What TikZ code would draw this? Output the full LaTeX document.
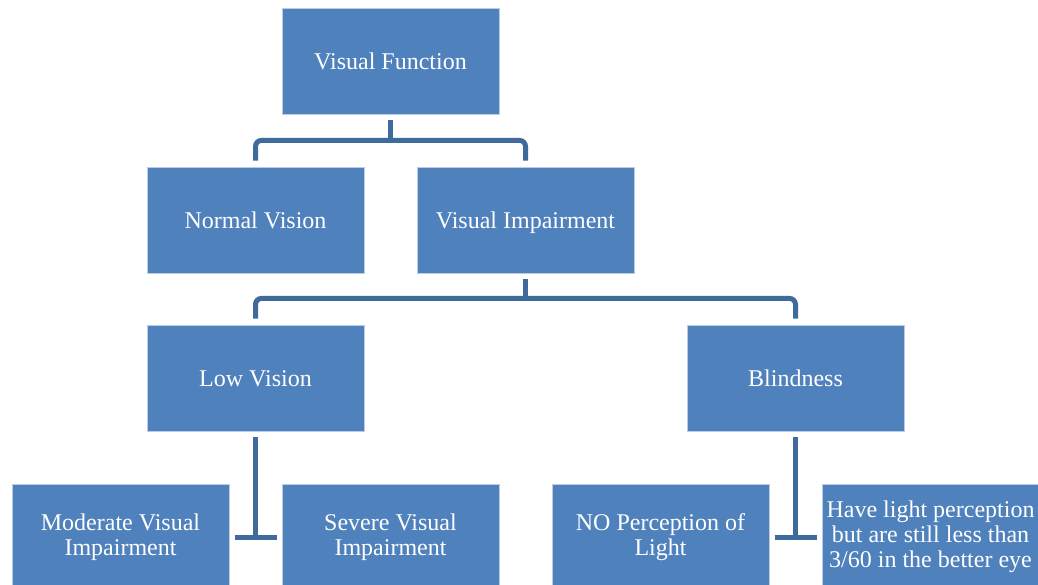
\documentclass[tikz,border=0pt]{standalone}
\usepackage{fontspec}
\setmainfont{Liberation Serif}
\definecolor{boxblue}{HTML}{4F81BD}
\definecolor{linkblue}{HTML}{3F6B9C}
\begin{document}
\begin{tikzpicture}[x=1pt,y=-1pt,
  box/.style={fill=boxblue, draw=white!60!boxblue, line width=0.8pt,
    minimum width=217pt, minimum height=106pt,
    text=white, font=\fontsize{24}{25}\selectfont, align=center, inner sep=3pt},
  oneline/.style={text height=18pt, text depth=1.5pt},
  conn/.style={draw=linkblue, line width=5pt, rounded corners=6pt}]
\useasboundingbox (0,0) rectangle (1038,584);
\clip (0,0) rectangle (1038,584);

\node[box,oneline] (vf) at (390.5,61) {Visual Function};
\node[box,oneline] (nv) at (255.5,220) {Normal Vision};
\node[box,oneline] (vi) at (525.5,220) {Visual Impairment};
\node[box,oneline] (lv) at (255.5,378) {Low Vision};
\node[box,oneline] (bl) at (795.5,378) {Blindness};
\node[box] (mv) at (120.5,537) {Moderate Visual\\Impairment};
\node[box] (sv) at (390.5,537) {Severe Visual\\Impairment};
\node[box] (np) at (660.5,537) {NO Perception of\\Light};
\node[box] (hl) at (930.5,537) {Have light perception\\but are still less than\\3/60 in the better eye};

% level 1
\coordinate (j1) at ([yshift=-26pt]vf.south);
\draw[conn] ([yshift=-6pt]vf.south) -- (j1);
\draw[conn] ([yshift=6pt]nv.north) |- (j1) -| ([yshift=6pt]vi.north);

% level 2
\coordinate (j2) at ([yshift=-25pt]vi.south);
\draw[conn] ([yshift=-6pt]vi.south) -- (j2);
\draw[conn] ([yshift=6pt]lv.north) |- (j2) -| ([yshift=6pt]bl.north);

% level 3
\draw[conn] ([yshift=-6pt]lv.south) -- ++(0,100) coordinate (t1);
\draw[conn] ([xshift=-21pt]t1) -- ([xshift=21pt]t1);
\draw[conn] ([yshift=-6pt]bl.south) -- ++(0,100) coordinate (t2);
\draw[conn] ([xshift=-21pt]t2) -- ([xshift=21pt]t2);
\end{tikzpicture}
\end{document}
